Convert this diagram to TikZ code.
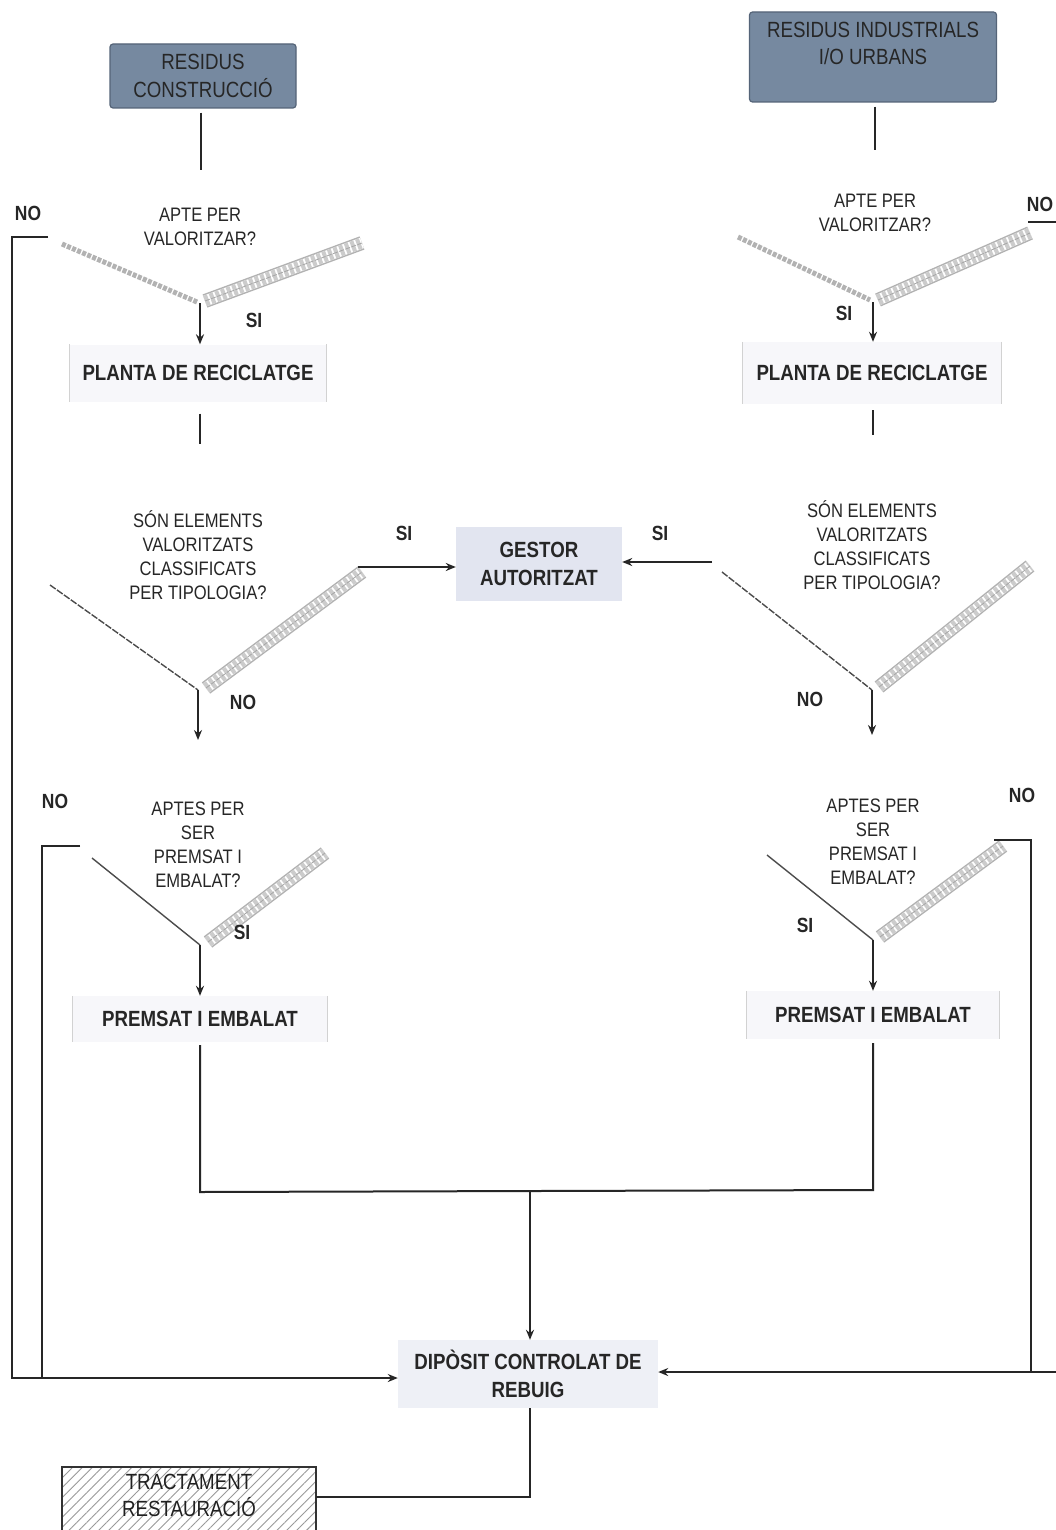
\documentclass[tikz,border=0pt]{standalone}
\usepackage{fontspec}
\setmainfont{Liberation Sans}[FakeStretch=0.85]
\usetikzlibrary{arrows.meta,patterns.meta,calc}
\definecolor{inkcol}{RGB}{38,38,38}
\definecolor{topfill}{RGB}{118,137,160}
\definecolor{topdraw}{RGB}{85,100,120}
\definecolor{lightfill}{RGB}{238,240,246}
\definecolor{gestfill}{RGB}{226,229,240}
\definecolor{palefill}{RGB}{247,247,250}
\newcommand\hband[2]{%
  \draw[line width=14pt, gray!60] #1 -- #2;
  \draw[line width=11pt, white] #1 -- #2;
  \draw[line width=11pt, gray!40, dash pattern=on 4pt off 2pt] #1 -- #2;
  \draw[line width=0.8pt, gray!70, dash pattern=on 5pt off 1.5pt] #1 -- #2;}
\begin{document}
\begin{tikzpicture}[x=1pt,y=-1pt,
  ink/.style={draw=inkcol, line width=2pt},
  arr/.style={draw=inkcol, line width=2pt, -{Stealth[length=10pt,width=8pt]}},
  qtext/.style={align=center, font=\fontsize{19.5}{24}\selectfont, text=inkcol, inner sep=0pt},
  lbl/.style={font=\fontsize{20.5}{22}\selectfont\bfseries, text=inkcol, inner sep=0pt},
  lightbox/.style={fill=lightfill, font=\fontsize{22}{28}\selectfont\bfseries, text=inkcol, align=center, inner sep=0pt},
  topbox/.style={fill=topfill, draw=topdraw, line width=1.2pt, rounded corners=3pt, inner sep=0pt, align=center, text=black!85, font=\fontsize{22}{28}\selectfont},
  thinarm/.style={draw=gray!60!black, line width=1.4pt},
  dotband/.style={draw=gray!60, line width=5pt, dash pattern=on 4pt off 1.5pt}
]
\useasboundingbox (0,0) rectangle (1056,1530);
\fill[white] (0,0) rectangle (1056,1530);

% ---------- top boxes ----------
\node[topbox, minimum width=186pt, minimum height=64pt] (rc) at (203,76) {RESIDUS\\CONSTRUCCIÓ};
\node[topbox, minimum width=247pt, minimum height=90pt] (ri) at (873,57) {};
\node[align=center, text=black!85, font=\fontsize{22}{27}\selectfont, inner sep=0pt] (riT) at (873,43) {RESIDUS INDUSTRIALS\\I/O URBANS};

\coordinate (c1L) at (201,170);
\coordinate (c1R) at (875,150);
\draw[ink] ($(rc.south)+(-2,4)$) -- (c1L);
\draw[ink] ($(ri.south)+(2,4)$) -- (c1R);

% ---------- V1 ----------
\node[qtext] (q1L) at (200,227) {APTE PER\\VALORITZAR?};
\node[qtext] (q1R) at (875,213) {APTE PER\\VALORITZAR?};
\coordinate (v1L) at (200,303);
\coordinate (v1R) at (873,302);
\draw[dotband] (62,244) -- (197,302);
\hband{(205,301)}{(362,243)}
\draw[dotband] (738,237) -- (870,300);
\hband{(878,300)}{(1030,233)}

\node[lbl] (noL1) at (28,213) {NO};
\node[lbl] (siL1) at (254,320) {SI};
\node[lbl] (noR1) at (1040,204) {NO};
\node[lbl] (siR1) at (844,313) {SI};

\coordinate (n1L) at (48,237);
\coordinate (n1R) at (1028,222);
\coordinate (e1R) at (1056,222);
\draw[ink] (n1R) -- (e1R);

% ---------- planta ----------
\node[lightbox, fill=palefill, minimum width=256pt, minimum height=57pt] (pl1) at (198,373) {PLANTA DE RECICLATGE};
\node[lightbox, fill=palefill, minimum width=259pt, minimum height=62pt] (pr1) at (872,373) {PLANTA DE RECICLATGE};
\draw[gray!35, line width=1pt] (pl1.north west) -- (pl1.south west) (pl1.north east) -- (pl1.south east);
\draw[gray!35, line width=1pt] (pr1.north west) -- (pr1.south west) (pr1.north east) -- (pr1.south east);
\draw[arr] (v1L) -- (v1L |- pl1.north);
\draw[arr] (v1R) -- (v1R |- pr1.north);
\coordinate (c2L) at (200,444);
\coordinate (c2R) at (873,435);
\draw[ink] (c2L |- pl1.south) ++(0,12) -- (c2L);
\draw[ink] (c2R |- pr1.south) ++(0,6) -- (c2R);

% ---------- V2 ----------
\node[qtext] (q2L) at (198,555) {SÓN ELEMENTS\\VALORITZATS\\CLASSIFICATS\\PER TIPOLOGIA?};
\node[qtext] (q2R) at (872,545) {SÓN ELEMENTS\\VALORITZATS\\CLASSIFICATS\\PER TIPOLOGIA?};
\coordinate (v2L) at (198,690);
\coordinate (v2R) at (872,690);
\draw[thinarm, dash pattern=on 7pt off 1.5pt] (50,585) -- (v2L);
\hband{(206,688)}{(362,572)}
\draw[thinarm, dash pattern=on 7pt off 1.5pt] (722,572) -- (v2R);
\hband{(879,687)}{(1030,566)}

\node[lightbox, fill=gestfill, minimum width=166pt, minimum height=74pt] (gest) at (539,564) {GESTOR\\AUTORITZAT};
\coordinate (h2L) at (358,567);
\coordinate (s2R) at (712,562);
\draw[arr] (h2L) -- (h2L -| gest.west);
\draw[arr] (s2R) -- (s2R -| gest.east);

\node[lbl] (siL2) at (404,533) {SI};
\node[lbl] (noL2) at (243,702) {NO};
\node[lbl] (siR2) at (660,533) {SI};
\node[lbl] (noR2) at (810,699) {NO};

\coordinate (a2L) at (198,740);
\coordinate (a2R) at (872,735);
\draw[arr] (v2L) -- (a2L);
\draw[arr] (v2R) -- (a2R);

% ---------- V3 ----------
\node[qtext] (q3L) at (198,845) {APTES PER\\SER\\PREMSAT I\\EMBALAT?};
\node[qtext] (q3R) at (873,842) {APTES PER\\SER\\PREMSAT I\\EMBALAT?};
\coordinate (v3L) at (200,945);
\coordinate (v3R) at (873,940);
\draw[thinarm] (92,858) -- (v3L);
\hband{(208,942)}{(325,853)}
\draw[thinarm] (767,855) -- (v3R);
\hband{(880,937)}{(1003,846)}

\node[lbl] (noL3) at (55,801) {NO};
\node[lbl] (siL3) at (242,932) {SI};
\node[lbl] (noR3) at (1022,795) {NO};
\node[lbl] (siR3) at (805,925) {SI};

\node[lightbox, fill=palefill, minimum width=254pt, minimum height=46pt] (pm1) at (200,1019) {PREMSAT I EMBALAT};
\node[lightbox, fill=palefill, minimum width=252pt, minimum height=48pt] (pm2) at (873,1015) {PREMSAT I EMBALAT};
\draw[gray!35, line width=1pt] (pm1.north west) -- (pm1.south west) (pm1.north east) -- (pm1.south east);
\draw[gray!35, line width=1pt] (pm2.north west) -- (pm2.south west) (pm2.north east) -- (pm2.south east);
\draw[arr] (v3L) -- (v3L |- pm1.north);
\draw[arr] (v3R) -- (v3R |- pm2.north);

% ---------- merge ----------
\coordinate (mL) at (200,1192);
\coordinate (mR) at (873,1190);
\coordinate (mM) at (530,1191);
\draw[ink] ($(pm1.south)+(0,3)$) -- (mL) -- (mR) -- ($(pm2.south)+(0,4)$);

\node[lightbox, minimum width=260pt, minimum height=68pt] (dip) at (528,1374) {DIPÒSIT CONTROLAT DE\\REBUIG};
\draw[arr] (mM) -- (mM |- dip.north);

% ---------- NO loops ----------
\coordinate (cL) at (12,1378);
\draw[arr] (n1L) -- (n1L -| cL) -- (cL) -- (cL -| dip.west);
\coordinate (n3L) at (80,846);
\coordinate (j3L) at (42,1378);
\draw[ink] (n3L) -- (n3L -| j3L) -- (j3L);

\coordinate (n3R) at (994,840);
\coordinate (j3R) at (1031,1372);
\coordinate (eR) at (1056,1372);
\draw[ink] (n3R) -- (n3R -| j3R) -- (j3R);
\draw[arr] (eR) -- (eR -| dip.east);

% ---------- tractament ----------
\node[draw=gray!40!black, line width=1.2pt, pattern={Lines[angle=45,distance=7pt,line width=0.9pt]}, pattern color=gray!80, minimum width=254pt, minimum height=80pt, inner sep=0pt] (trat) at (189,1507) {};
\node[align=center, text=gray!25!black, font=\fontsize{22}{27}\selectfont, inner sep=0pt] (tratT) at (189,1495) {TRACTAMENT\\RESTAURACIÓ};
\coordinate (tb) at (530,1497);
\draw[ink] (dip.south) ++(2,0) -- (tb) -- (tb -| trat.east);
\end{tikzpicture}
\end{document}
